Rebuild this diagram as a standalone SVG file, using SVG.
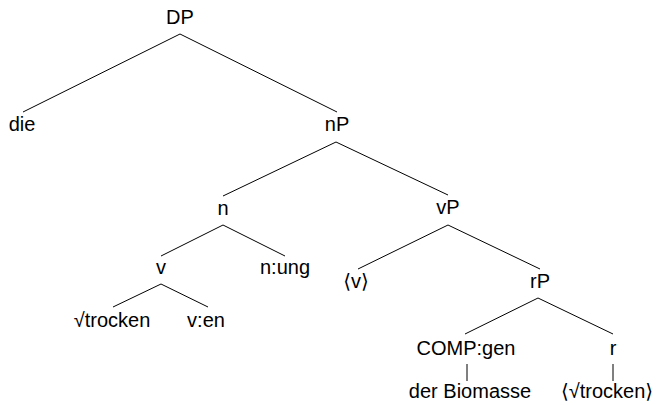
<svg xmlns="http://www.w3.org/2000/svg" width="666" height="405" viewBox="0 0 666 405">
  <style>
    text { font-family: "Liberation Sans", "DejaVu Sans", sans-serif; font-size: 20px; fill: #000; text-anchor: middle; }
    #edges line { stroke: #000; stroke-width: 1; }
  </style>
  <rect width="666" height="405" fill="#fff"/>
  <g id="edges">
    <line x1="180" y1="34" x2="23" y2="112"/>
    <line x1="180" y1="34" x2="337" y2="112"/>
    <line x1="336" y1="142" x2="223" y2="196"/>
    <line x1="336" y1="142" x2="448" y2="195"/>
    <line x1="223" y1="225" x2="161" y2="256"/>
    <line x1="223" y1="225" x2="285" y2="256"/>
    <line x1="448" y1="225" x2="358" y2="269"/>
    <line x1="448" y1="225" x2="540" y2="269"/>
    <line x1="161" y1="284" x2="113" y2="307"/>
    <line x1="161" y1="284" x2="208" y2="307"/>
    <line x1="538" y1="298" x2="465" y2="334"/>
    <line x1="538" y1="298" x2="613" y2="334"/>
    <line x1="467" y1="364" x2="467" y2="381"/>
    <line x1="613" y1="364" x2="613" y2="381"/>
  </g>
  <g id="DP"><text x="180" y="24">DP</text></g>
  <g id="die"><text x="22" y="131">die</text></g>
  <g id="nP"><text x="337" y="131">nP</text></g>
  <g id="n"><text x="223" y="215">n</text></g>
  <g id="vP"><text x="448" y="214">vP</text></g>
  <g id="v"><text x="161" y="274">v</text></g>
  <g id="n-ung"><text x="285" y="274">n:ung</text></g>
  <g id="v-trace"><text x="356" y="288">⟨v⟩</text></g>
  <g id="rP"><text x="540" y="288">rP</text></g>
  <g id="root-trocken"><text x="112" y="327">√trocken</text></g>
  <g id="v-en"><text x="206" y="327">v:en</text></g>
  <g id="COMP-gen"><text x="466" y="355">COMP:gen</text></g>
  <g id="r"><text x="613" y="355">r</text></g>
  <g id="der-Biomasse"><text x="470" y="398">der Biomasse</text></g>
  <g id="root-trace"><text x="607" y="398">⟨√trocken⟩</text></g>
</svg>
